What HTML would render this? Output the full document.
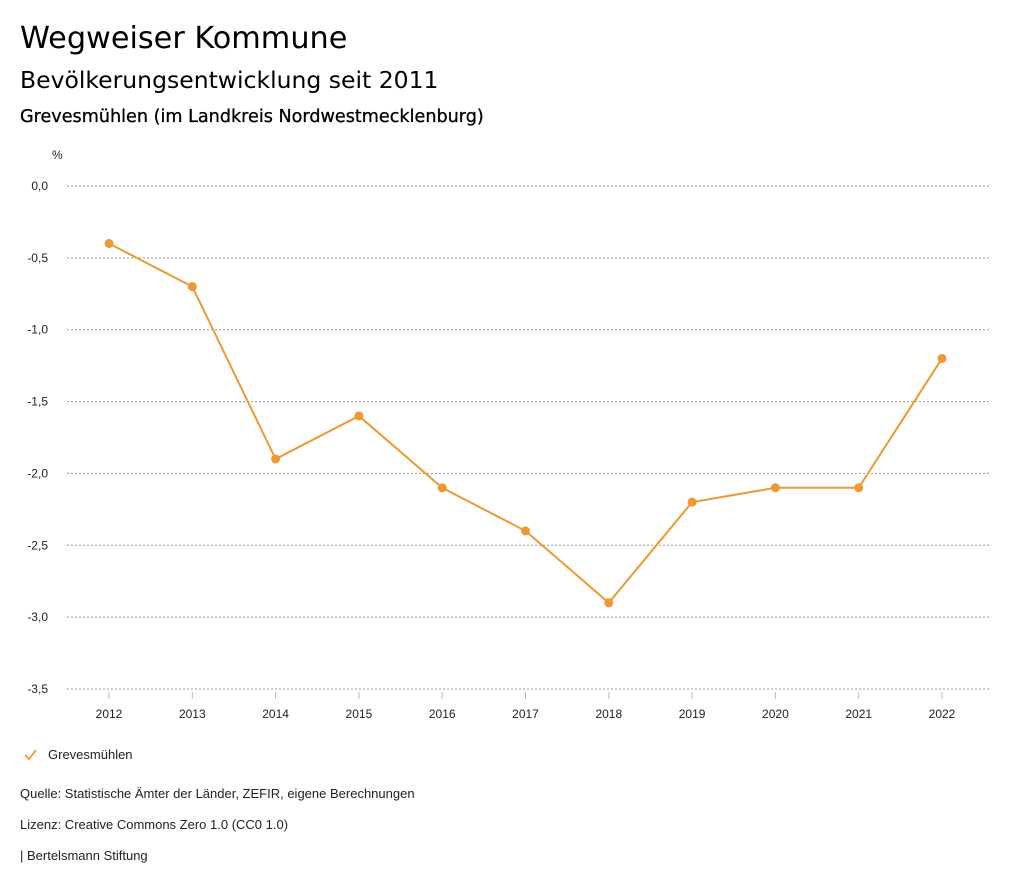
<!DOCTYPE html>
<html><head><meta charset="utf-8"><style>
body{margin:0;background:#fff;font-family:"Liberation Sans","DejaVu Sans",sans-serif;color:#000}
svg{display:block}
.h{font-family:"DejaVu Sans",sans-serif}
</style></head><body>
<svg id="c" width="1024" height="888">
<text class="h" x="20" y="48" font-size="30.3">Wegweiser Kommune</text>
<text class="h" x="20" y="88" font-size="23.5">Bevölkerungsentwicklung seit 2011</text>
<text class="h" x="20" y="122" font-size="17.6" stroke="#000" stroke-width="0.3">Grevesmühlen (im Landkreis Nordwestmecklenburg)</text>
<text x="52" y="159" font-size="12" fill="#222">%</text>
<g id="grid"></g><g id="xt"></g><g id="series"></g>
<g>
<path d="M25 755 L29 759 L36 750" fill="none" stroke="#ee9933" stroke-width="1.8"/>
<text x="48" y="759" font-size="13" fill="#222">Grevesmühlen</text></g>
<text x="20" y="798" font-size="13" fill="#222">Quelle: Statistische Ämter der Länder, ZEFIR, eigene Berechnungen</text>
<text x="20" y="829" font-size="13" fill="#222">Lizenz: Creative Commons Zero 1.0 (CC0 1.0)</text>
<text x="20" y="860" font-size="13" fill="#222">| Bertelsmann Stiftung</text>
</svg>
<script>
const years=["2012","2013","2014","2015","2016","2017","2018","2019","2020","2021","2022"];
const values=[-0.4,-0.7,-1.9,-1.6,-2.1,-2.4,-2.9,-2.2,-2.1,-2.1,-1.2];
const yTicks=[0,-0.5,-1,-1.5,-2,-2.5,-3,-3.5];
const NS="http://www.w3.org/2000/svg";
const y=v=>186+(-v)*(503/3.5);
const x=i=>109+i*83.3;
function mk(t,a,p){const e=document.createElementNS(NS,t);for(const k in a)e.setAttribute(k,a[k]);p.appendChild(e);return e;}
const g=document.getElementById('grid');
yTicks.forEach(v=>{
 const l=mk('line',{x1:67,x2:990,y1:y(v),y2:y(v),stroke:'#999','stroke-dasharray':'2,2','stroke-width':1},g);
 
 
 const t=mk('text',{x:48,y:y(v)+4,'font-size':12,fill:'#222','text-anchor':'end'},g);
 t.textContent=v.toFixed(1).replace('.',',').replace('-0,0','0,0');
 
 
});
const xt=document.getElementById('xt');
years.forEach((yr,i)=>{
 const l=mk('line',{x1:x(i),x2:x(i),y1:692,y2:699,stroke:'#bbb'},xt);
 
 
 const t=mk('text',{x:x(i),y:718,'font-size':12,fill:'#222','text-anchor':'middle'},xt);
 t.textContent=yr;
 
 
});
const s=document.getElementById('series');
const p=mk('polyline',{points:values.map((v,i)=>x(i)+','+y(v)).join(' '),fill:'none',stroke:'#ee9933','stroke-width':2},s);


values.forEach((v,i)=>{
 const c=mk('circle',{cx:x(i),cy:y(v),r:4.5,fill:'#ee9933'},s);
 
 
});
</script>
</body></html>
